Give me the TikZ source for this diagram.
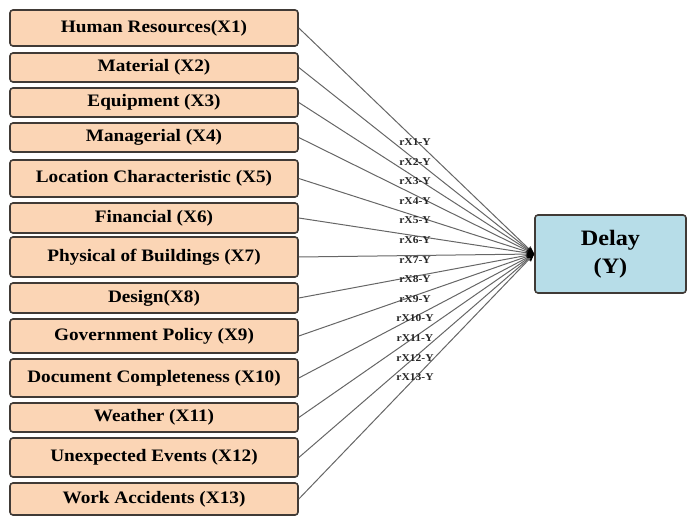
\documentclass[tikz,border=0pt]{standalone}
\usepackage{fontspec}
\setmainfont{Liberation Serif}[FakeStretch=1.1]
\usetikzlibrary{arrows.meta}

\definecolor{peach}{RGB}{251,213,181}
\definecolor{paleblue}{RGB}{183,221,232}
\definecolor{rimgray}{RGB}{64,58,54}

\begin{document}
\begin{tikzpicture}[
    x=1pt, y=-1pt,
    factor/.style={draw=rimgray, line width=1.6pt, fill=peach, rounded corners=3pt,
                   minimum width=288pt, inner sep=0pt,
                   font=\fontsize{17.5}{20}\selectfont\bfseries},
    target/.style={draw=rimgray, line width=1.6pt, fill=paleblue, rounded corners=3pt,
                   minimum width=151pt, minimum height=78pt, inner sep=0pt, align=center,
                   font=\fontsize{22}{28}\selectfont\bfseries},
    link/.style={draw=black!60, line width=1pt, -{Stealth[length=8pt, width=6pt, black]}},
    rlabel/.style={font=\fontsize{10.5}{12}\selectfont\bfseries, text=black!85, inner sep=0pt},
  ]
  \useasboundingbox (0,0) rectangle (692,518);
  \foreach \n/\t/\yc/\h in {
      1/{Human Resources(X1)}/28/36,
      2/{Material (X2)}/67.5/29,
      3/{Equipment (X3)}/102.5/29,
      4/{Managerial (X4)}/137.5/29,
      5/{Location Characteristic (X5)}/178.5/37,
      6/{Financial (X6)}/218/30,
      7/{Physical of Buildings (X7)}/257/40,
      8/{Design(X8)}/298/30,
      9/{Government Policy (X9)}/336/34,
      10/{Document Completeness (X10)}/378/38,
      11/{Weather (X11)}/417.5/29,
      12/{Unexpected Events (X12)}/457.5/39,
      13/{Work Accidents (X13)}/499/32} {
    \node[factor, minimum height=\h pt] (x\n) at (154,\yc) {\t};
  }
  \node[target] (y) at (610.5,254) {Delay\\(Y)};
  \foreach \n in {1,...,13} {
    \draw[link] (x\n.east) -- (y.west);
    \node[rlabel] (r\n) at (415,{142+19.6*(\n-1)}) {rX\n-Y};
  }
\end{tikzpicture}
\end{document}
